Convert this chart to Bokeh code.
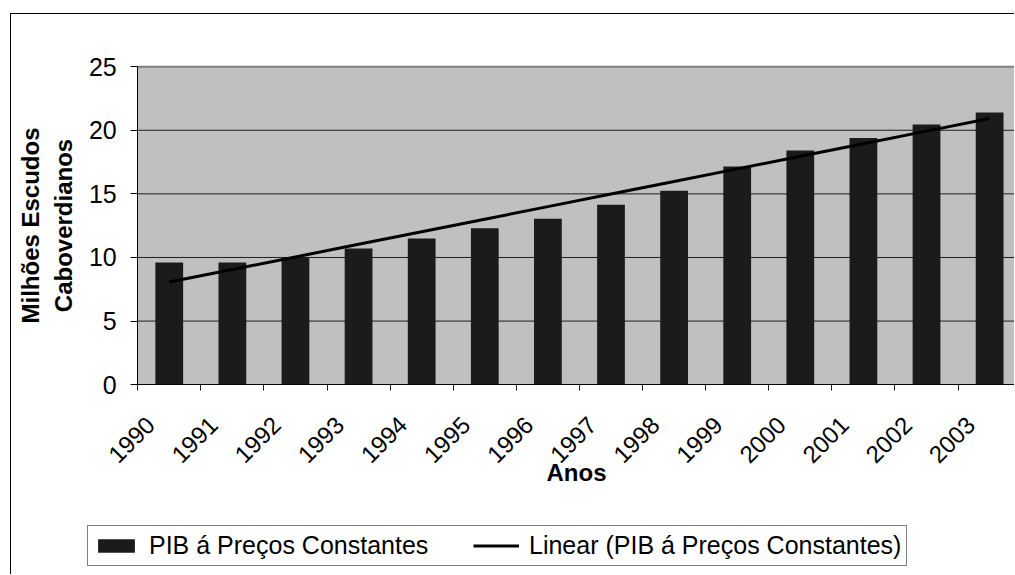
import math
import numpy as np
from bokeh.plotting import figure
from bokeh.models import Range1d, FixedTicker, Legend, LegendItem, BoxAnnotation
from bokeh.embed import file_html
from bokeh.resources import INLINE

# ---- data ----
years = ["1990", "1991", "1992", "1993", "1994", "1995", "1996",
         "1997", "1998", "1999", "2000", "2001", "2002", "2003"]
pib = [9.6, 9.6, 9.95, 10.7, 11.5, 12.3, 13.05,
       14.15, 15.25, 17.15, 18.4, 19.4, 20.45, 21.4]
y_ticks = [0, 5, 10, 15, 20, 25]
grid_ticks = [5, 10, 15, 20]
bar_label = "PIB á Preços Constantes"
trend_label = "Linear (PIB á Preços Constantes)"
x_title = "Anos"
y_title = "Milhões Escudos\nCaboverdianos"

# category centres and linear trend (least squares on the data)
n = len(years)
xc = [i + 0.5 for i in range(n)]
slope, intercept = np.polyfit(xc, pib, 1)
trend = [slope * v + intercept for v in xc]

FONT = "Liberation Sans"
LABEL_SHIFT = -0.3           # rotated year labels end slightly left of the category centre
BAR_COLOR = "#1b1b1b"
X_MIN, X_MAX = -2.0, 13.91   # room on the left for the value axis, plot cut at the right
Y_MIN, Y_MAX = -15.0, 29.1   # room below for year labels, title and legend; above for top label

p = figure(width=1004, height=561,
           x_range=Range1d(X_MIN, X_MAX), y_range=Range1d(Y_MIN, Y_MAX),
           output_backend="svg", toolbar_location=None,
           min_border_left=0, min_border_right=0,
           min_border_top=0, min_border_bottom=0)
p.styles = {"margin-left": "10px", "margin-top": "13px",
            "border-left": "1px solid black", "border-top": "1px solid black"}

p.background_fill_color = "white"
p.border_fill_color = "white"
p.outline_line_color = None
p.grid.visible = False

# grey plot area
p.add_layout(BoxAnnotation(left=0, bottom=y_ticks[0], top=y_ticks[-1],
                           fill_color="#c0c0c0", fill_alpha=1,
                           line_color=None, level="underlay"))

# horizontal gridlines and top border of the plot area
p.segment(x0=0, x1=X_MAX, y0=grid_ticks, y1=grid_ticks,
          line_color="#1e1e1e", line_width=1)
p.segment(x0=0, x1=X_MAX, y0=y_ticks[-1], y1=y_ticks[-1],
          line_color="#808080", line_width=2)

bars = p.vbar(x=xc, top=pib, width=0.44, fill_color=BAR_COLOR, line_color=None)
ln = p.line(x=xc, y=trend, line_color="black", line_width=3)

xa = p.xaxis[0]
xa.fixed_location = 0
xa.bounds = (0, X_MAX)
label_pos = [v + LABEL_SHIFT for v in xc]
xa.ticker = FixedTicker(ticks=label_pos, minor_ticks=list(range(n + 1)))
xa.major_label_overrides = {v: yr for v, yr in zip(label_pos, years)}
xa.major_tick_line_color = None
xa.major_tick_out = 6
xa.major_tick_in = 0
xa.minor_tick_line_color = "#202020"
xa.minor_tick_out = 6
xa.minor_tick_in = 0
xa.axis_line_color = "black"
xa.major_label_orientation = math.pi / 4
xa.major_label_text_font = FONT
xa.major_label_text_font_size = "24px"
xa.major_label_text_color = "black"
xa.major_label_standoff = 30
xa.axis_label = x_title
xa.axis_label_text_font = FONT
xa.axis_label_text_font_style = "bold"
xa.axis_label_text_font_size = "24px"
xa.axis_label_text_color = "black"
xa.axis_label_standoff = -14

ya = p.yaxis[0]
ya.fixed_location = 0
ya.bounds = (y_ticks[0], y_ticks[-1])
ya.ticker = FixedTicker(ticks=y_ticks)
ya.minor_tick_line_color = None
ya.major_tick_out = 7
ya.major_tick_in = 0
ya.major_tick_line_color = "black"
ya.axis_line_color = "black"
ya.major_label_text_font = FONT
ya.major_label_text_font_size = "25px"
ya.major_label_text_color = "black"
ya.major_label_standoff = 14
ya.axis_label = y_title
ya.axis_label_text_font = FONT
ya.axis_label_text_font_style = "bold"
ya.axis_label_text_font_size = "24px"
ya.axis_label_text_color = "black"
ya.axis_label_standoff = 9

legend = Legend(items=[LegendItem(label=bar_label, renderers=[bars]),
                       LegendItem(label=trend_label, renderers=[ln])],
                orientation="horizontal", location=(76, 9))
legend.label_text_font = FONT
legend.label_text_font_size = "25px"
legend.label_text_color = "black"
legend.label_width = 310
legend.glyph_width = 46
legend.glyph_height = 17
legend.label_standoff = 10
legend.spacing = 14
legend.padding = 5
legend.margin = 0
legend.border_line_color = "black"
legend.border_line_width = 1
legend.background_fill_color = "white"
legend.background_fill_alpha = 1
p.add_layout(legend)

open("out.html", "w").write(file_html(p, INLINE))
